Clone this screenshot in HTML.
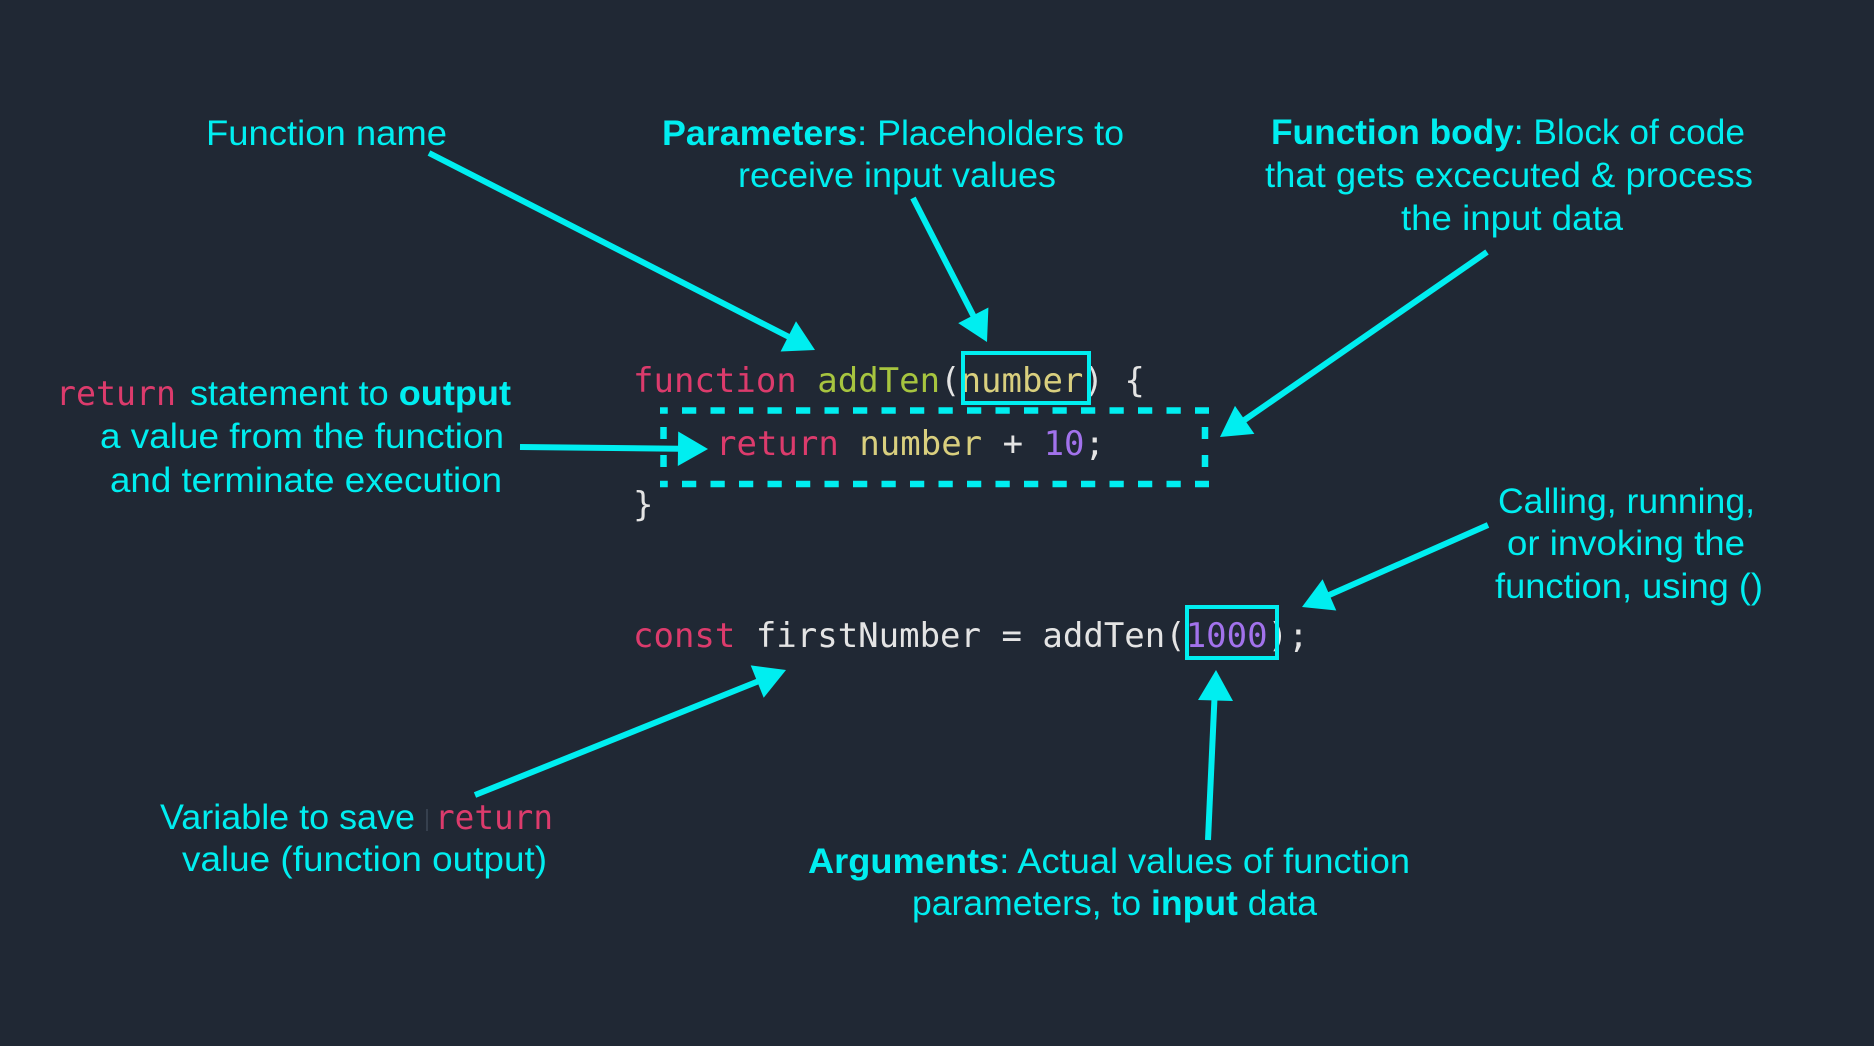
<!DOCTYPE html>
<html>
<head>
<meta charset="utf-8">
<style>
  html, body { margin: 0; padding: 0; background: #202834; }
  body { width: 1874px; height: 1046px; overflow: hidden; }
  svg { display: block; }
  .lbl { font-family: "Liberation Sans", Arial, sans-serif; font-size: 35px; fill: #00eef0; }
  .b { font-weight: bold; }
  .code { font-family: "DejaVu Sans Mono", "Liberation Mono", monospace; font-size: 34px; }
  .kw { fill: #dc3b6c; }
  .fn { fill: #a7c53f; }
  .param { fill: #d9cf7e; }
  .num { fill: #a272ec; }
  .pl { fill: #e4e4e4; }
</style>
</head>
<body>
<svg width="1874" height="1046" viewBox="0 0 1874 1046" xmlns="http://www.w3.org/2000/svg">
  <rect x="0" y="0" width="1874" height="1046" fill="#202834"/>

  <!-- Labels -->
  <text class="lbl" x="206" y="145" textLength="241" lengthAdjust="spacingAndGlyphs">Function name</text>

  <text class="lbl" x="662" y="145" textLength="462" lengthAdjust="spacingAndGlyphs"><tspan class="b">Parameters</tspan>: Placeholders to</text>
  <text class="lbl" x="738" y="187" textLength="318" lengthAdjust="spacingAndGlyphs">receive input values</text>

  <text class="lbl" x="1271" y="144" textLength="474" lengthAdjust="spacingAndGlyphs"><tspan class="b">Function body</tspan>: Block of code</text>
  <text class="lbl" x="1265" y="187" textLength="488" lengthAdjust="spacingAndGlyphs">that gets excecuted &amp; process</text>
  <text class="lbl" x="1401" y="230" textLength="222" lengthAdjust="spacingAndGlyphs">the input data</text>

  <text class="code kw" x="56" y="405" textLength="120" lengthAdjust="spacingAndGlyphs">return</text>
  <text class="lbl" x="190" y="405" textLength="321" lengthAdjust="spacingAndGlyphs">statement to <tspan class="b">output</tspan></text>
  <text class="lbl" x="100" y="448" textLength="404" lengthAdjust="spacingAndGlyphs">a value from the function</text>
  <text class="lbl" x="110" y="492" textLength="392" lengthAdjust="spacingAndGlyphs">and terminate execution</text>

  <text class="lbl" x="1498" y="513" textLength="257" lengthAdjust="spacingAndGlyphs">Calling, running,</text>
  <text class="lbl" x="1507" y="555" textLength="238" lengthAdjust="spacingAndGlyphs">or invoking the</text>
  <text class="lbl" x="1495" y="598" textLength="268" lengthAdjust="spacingAndGlyphs">function, using ()</text>

  <text class="lbl" x="160" y="829" textLength="255" lengthAdjust="spacingAndGlyphs">Variable to save</text>
  <rect x="426" y="809" width="2" height="22" fill="#36404e"/>
  <text class="code kw" x="435" y="829" textLength="118" lengthAdjust="spacingAndGlyphs">return</text>
  <text class="lbl" x="182" y="871" textLength="365" lengthAdjust="spacingAndGlyphs">value (function output)</text>

  <text class="lbl" x="808" y="873" textLength="602" lengthAdjust="spacingAndGlyphs"><tspan class="b">Arguments</tspan>: Actual values of function</text>
  <text class="lbl" x="912" y="915" textLength="405" lengthAdjust="spacingAndGlyphs">parameters, to <tspan class="b">input</tspan> data</text>

  <!-- Code -->
  <text class="code" x="633" y="392"><tspan class="kw">function</tspan><tspan class="pl"> </tspan><tspan class="fn">addTen</tspan><tspan class="pl">(</tspan><tspan class="param">number</tspan><tspan class="pl">) {</tspan></text>
  <text class="code" x="716" y="455"><tspan class="kw">return</tspan><tspan class="pl"> </tspan><tspan class="param">number</tspan><tspan class="pl"> + </tspan><tspan class="num">10</tspan><tspan class="pl">;</tspan></text>
  <text class="code pl" x="633" y="516">}</text>
  <text class="code" x="633" y="647"><tspan class="kw">const</tspan><tspan class="pl"> firstNumber = addTen(</tspan><tspan class="num">1000</tspan><tspan class="pl">);</tspan></text>

  <!-- Boxes -->
  <rect x="963" y="353" width="126" height="50" fill="none" stroke="#00eef0" stroke-width="4"/>
  <rect x="1187" y="607" width="90" height="51" fill="none" stroke="#00eef0" stroke-width="4"/>

  <!-- Dashed function body box -->
  <g stroke="#00eef0" stroke-width="6.5" fill="none">
    <line x1="660" y1="410.5" x2="1209" y2="410.5" stroke-dasharray="14.25 14.25" stroke-dashoffset="6.5"/>
    <line x1="660" y1="484" x2="1209" y2="484" stroke-dasharray="14.25 14.25" stroke-dashoffset="6.5"/>
    <line x1="663.5" y1="427" x2="663.5" y2="467" stroke-dasharray="12 16"/>
    <line x1="1205" y1="427" x2="1205" y2="467" stroke-dasharray="12 16"/>
  </g>

  <!-- Arrows -->
  <g stroke="#00eef0" stroke-width="6" fill="none" stroke-linecap="butt">
    <line x1="429" y1="153" x2="790" y2="337.5"/>
    <line x1="913" y1="198" x2="974" y2="317"/>
    <line x1="1487" y1="252" x2="1243" y2="421"/>
    <line x1="520" y1="447" x2="680" y2="448.7"/>
    <line x1="1488" y1="525" x2="1328" y2="595.5"/>
    <line x1="1208" y1="840" x2="1214.5" y2="698"/>
    <line x1="475" y1="795" x2="759" y2="681"/>
  </g>
  <g fill="#00eef0">
    <polygon points="815,350 780.6,351.5 796,321.3"/>
    <polygon points="987,342 958.2,323.1 988.4,307.5"/>
    <polygon points="1220,437 1235,405.9 1254.4,433.9"/>
    <polygon points="708,449 677.8,466 678.2,431.5"/>
    <polygon points="1302,607 1322.6,579.3 1336.3,610.5"/>
    <polygon points="1216,670 1233,701 1198,700"/>
    <polygon points="786,670 763.7,697.8 750.7,665.4"/>
  </g>
</svg>
</body>
</html>
